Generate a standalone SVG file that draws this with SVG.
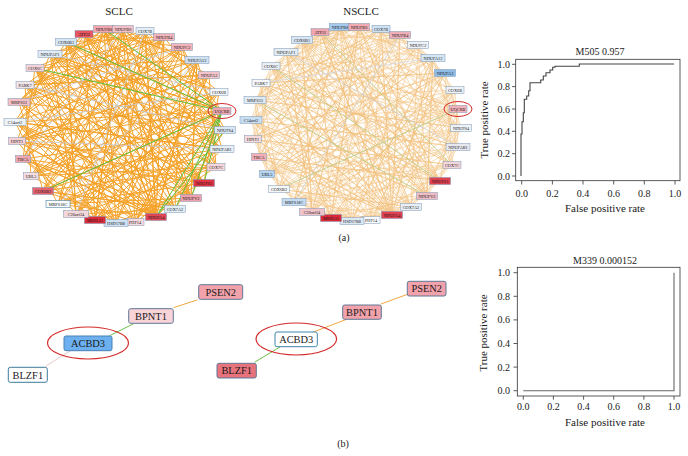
<svg xmlns="http://www.w3.org/2000/svg" width="688" height="456" viewBox="0 0 688 456">
<style>
text{font-family:"Liberation Serif","Times New Roman",serif;fill:#1a1a1a}
.n rect{stroke:#7c95b3;stroke-width:0.5}
.n text{font-size:4.3px;text-anchor:middle}
.b rect{stroke:#5f7897;stroke-width:1}
.b text{font-size:10.4px;text-anchor:middle}
.ring{fill:none;stroke:#d42a2a;stroke-width:1}
.ax{fill:none;stroke:#333;stroke-width:0.8}
.tk{font-size:10px}
.tl{font-size:11px;text-anchor:middle}
.e{fill:none;stroke-linecap:round;stroke-linejoin:round}
</style>
<defs>
<path id="pa" d="M182 47L43 191L222 111L50 54L191 198L123 29L15 122L135 222L219 92L84 34L95 220L222 149L25 85L164 37L23 159L204 183L66 42L76 214L209 75L17 141L156 217L145 31L19 102L225 130L58 204L104 29L175 209L35 68L216 167L31 176L197 60L116 223"/>
<path id="pb" d="M216 167L84 34L156 217L19 102L197 60L76 214L66 42L222 111L17 141L145 31L191 198L35 68L95 220L219 92L43 191L104 29L222 149L15 122L175 209L182 47L23 159L116 223L50 54L225 130L123 29L58 204L204 183L25 85L209 75L135 222L164 37L31 176"/>
<path id="pc" d="M23 159L225 130L104 29L116 223L35 68L197 60L191 198L15 122L145 31L216 167L76 214L219 92L66 42L175 209L43 191L164 37L19 102L156 217L84 34L204 183L17 141L209 75L95 220L123 29L50 54L222 149L31 176L222 111L135 222L25 85L182 47L58 204"/>
<path id="pd" d="M145 31L95 220L25 85L204 183L84 34L23 159L156 217L197 60L15 122L222 149L66 42L191 198L58 204L222 111L123 29L135 222L35 68L225 130L43 191L175 209L104 29L19 102L116 223L182 47L216 167L50 54L76 214L164 37L17 141L219 92L31 176L209 75"/>
<path id="pe" d="M156 217L35 68L164 37L58 204L222 149L84 34L19 102L191 198L197 60L31 176L123 29L95 220L225 130L66 42L135 222L209 75L25 85L175 209L23 159L104 29L204 183L50 54L222 111L15 122L116 223L145 31L43 191L216 167L17 141L182 47L76 214L219 92"/>
<path id="pf" d="M219 92L19 102L204 183L123 29L76 214L50 54L175 209L197 60L116 223L17 141L84 34L225 130L31 176L164 37L156 217L66 42L216 167L58 204L104 29L23 159L222 111L95 220L35 68L191 198L182 47L15 122L135 222L145 31L222 149L25 85L43 191L209 75"/>
<path id="pg" d="M76 214L123 29L204 183L23 159L197 60L66 42L116 223L222 111L25 85L175 209L84 34L43 191L222 149L164 37L15 122L191 198L50 54L95 220L209 75L31 176L104 29L135 222L225 130L19 102L145 31L17 141L216 167L35 68L156 217L219 92L58 204L182 47"/>
<path id="s5" d="M84 34L182 47L225 130L175 209L76 214L17 141L50 54L145 31L219 92L204 183L116 223L31 176L25 85L104 29L197 60L222 149L156 217L58 204L15 122L66 42L164 37L222 111L191 198L95 220L23 159L35 68L123 29L209 75L216 167L135 222L43 191L19 102Z"/>
<path id="s3" d="M84 34L145 31L197 60L222 111L216 167L175 209L116 223L58 204L23 159L19 102L50 54L104 29L164 37L209 75L225 130L204 183L156 217L95 220L43 191L17 141L25 85L66 42L123 29L182 47L219 92L222 149L191 198L135 222L76 214L31 176L15 122L35 68Z"/>
<path id="hub" d="M84 34L156 217L104 29M123 29L156 217L145 31M164 37L156 217L197 60M19 102L156 217L25 85M35 68L156 217L50 54M66 42L156 217L23 159M17 141L156 217L15 122M84 34L191 198L104 29M123 29L191 198L50 54M66 42L204 183L35 68"/>
</defs>

<text x="119" y="15" style="font-size:11px;text-anchor:middle">SCLC</text>
<text x="361" y="15" style="font-size:11px;text-anchor:middle">NSCLC</text>

<g id="connectors">
<g id="sclc-edges" class="e" stroke="#f4a128" stroke-width="0.95">
<use href="#pa"/>
<use href="#pb"/>
<use href="#pc"/>
<use href="#pd"/>
<use href="#pe"/>
<use href="#s5"/>
<use href="#hub"/>
<path stroke="#c5c8d0" stroke-width="0.8" d="M50 54L219 92M25 85L225 130M19 102L182 47M15 122L219 92M23 159L123 29M17 141L222 149M145 31L76 214M58 204L197 60"/>
<path stroke="#5fbf3a" stroke-width="1" d="M66 42L222 111L35 68M104 29L222 111L43 191M156 217L222 111L175 209M191 198L222 111L204 183M156 217L225 130"/>
</g>
<g id="nsclc-edges" class="e" transform="translate(236,-2)" stroke="#f3c17c" stroke-width="0.55">
<use href="#pa"/>
<use href="#pb"/>
<use href="#pc"/>
<use href="#pd"/>
<use href="#pe"/>
<use href="#pf"/>
<use href="#pg"/>
<use href="#s5"/>
<use href="#s3"/>
<use href="#hub"/>
<path stroke="#c5d3e6" stroke-width="0.6" d="M50 54L222 149M25 85L197 60M58 204L164 37"/>
<path stroke="#a5d08a" stroke-width="0.6" d="M35 68L204 183M43 191L222 111M84 34L216 167M19 102L191 198"/>
</g>
<g id="b-edges" class="e" stroke-width="1">
<path stroke="#f0a840" d="M174 307.5L197 300"/>
<path stroke="#6cc04a" d="M133 324L110 335.5"/>
<path stroke="#e6cccc" d="M70 351L46 366"/>
<path stroke="#f0a840" d="M311 333L346 319.5"/>
<path stroke="#f0a840" d="M381 304L407 294.5"/>
<path stroke="#6cc04a" d="M280 347L255 362"/>
</g>
</g>

<g id="sclc-nodes">
<g id="s-ATP5I" class="n"><rect x="75" y="30.5" width="18" height="7" fill="#e8545f"/><text x="84" y="35.5">ATP5I</text></g>
<g id="s-NDUFB8" class="n"><rect x="93.5" y="25.5" width="21" height="7" fill="#f1a6ae"/><text x="104" y="30.5">NDUFB8</text></g>
<g id="s-NDUFB6" class="n"><rect x="112.5" y="25.5" width="21" height="7" fill="#f4c0c6"/><text x="123" y="30.5">NDUFB6</text></g>
<g id="s-COX7B" class="n"><rect x="136" y="27.5" width="18" height="7" fill="#e4eef7"/><text x="145" y="32.5">COX7B</text></g>
<g id="s-NDUFB4" class="n"><rect x="153.5" y="33.5" width="21" height="7" fill="#f2b3ba"/><text x="164" y="38.5">NDUFB4</text></g>
<g id="s-NDUFC2" class="n"><rect x="171.5" y="43.5" width="21" height="7" fill="#f2b3ba"/><text x="182" y="48.5">NDUFC2</text></g>
<g id="s-NDUFA12" class="n"><rect x="185" y="56.5" width="24" height="7" fill="#cfe1f2"/><text x="197" y="61.5">NDUFA12</text></g>
<g id="s-NDUFA3" class="n"><rect x="198.5" y="71.5" width="21" height="7" fill="#f4c4ca"/><text x="209" y="76.5">NDUFA3</text></g>
<g id="s-COX6B" class="n"><rect x="210" y="88.5" width="18" height="7" fill="#f3f7fb"/><text x="219" y="93.5">COX6B</text></g>
<g id="s-UQCRB" class="n"><rect x="213" y="107.5" width="18" height="7" fill="#f1a9b1"/><text x="222" y="112.5">UQCRB</text><ellipse class="ring" cx="222" cy="111" rx="14" ry="7.5"/></g>
<g id="s-NDUFS4" class="n"><rect x="214.5" y="126.5" width="21" height="7" fill="#dae8f5"/><text x="225" y="131.5">NDUFS4</text></g>
<g id="s-NDUFAB1" class="n"><rect x="210" y="145.5" width="24" height="7" fill="#e6eef6"/><text x="222" y="150.5">NDUFAB1</text></g>
<g id="s-COX7C" class="n"><rect x="207" y="163.5" width="18" height="7" fill="#f6d6db"/><text x="216" y="168.5">COX7C</text></g>
<g id="s-NDUFS3" class="n"><rect x="193.5" y="179.5" width="21" height="7" fill="#e03343"/><text x="204" y="184.5">NDUFS3</text></g>
<g id="s-NDUFV2" class="n"><rect x="180.5" y="194.5" width="21" height="7" fill="#efa2ac"/><text x="191" y="199.5">NDUFV2</text></g>
<g id="s-COX7A2" class="n"><rect x="164.5" y="205.5" width="21" height="7" fill="#e2edf7"/><text x="175" y="210.5">COX7A2</text></g>
<g id="s-NDUFA4" class="n"><rect x="145.5" y="213.5" width="21" height="7" fill="#e04655"/><text x="156" y="218.5">NDUFA4</text></g>
<g id="s-PHF14" class="n"><rect x="126" y="218.5" width="18" height="7" fill="#f6d9de"/><text x="135" y="223.5">PHF14</text></g>
<g id="s-HSD17B8" class="n"><rect x="104" y="219.5" width="24" height="7" fill="#cfe1f2"/><text x="116" y="224.5">HSD17B8</text></g>
<g id="s-MRPL51" class="n"><rect x="84.5" y="216.5" width="21" height="7" fill="#dc2b3a"/><text x="95" y="221.5">MRPL51</text></g>
<g id="s-C20orf24" class="n"><rect x="63.5" y="210.5" width="25" height="7" fill="#f4d7db"/><text x="76" y="215.5">C20orf24</text></g>
<g id="s-MRPS18C" class="n"><rect x="46" y="200.5" width="24" height="7" fill="#f8fbff" style="stroke:#2f6a94"/><text x="58" y="205.5">MRPS18C</text></g>
<g id="s-COX6B2" class="n"><rect x="32.5" y="187.5" width="21" height="7" fill="#e4636f"/><text x="43" y="192.5">COX6B2</text></g>
<g id="s-UBL5" class="n"><rect x="23.5" y="172.5" width="15" height="7" fill="#f5dde1"/><text x="31" y="177.5">UBL5</text></g>
<g id="s-TBCA" class="n"><rect x="15.5" y="155.5" width="15" height="7" fill="#f0a8b0"/><text x="23" y="160.5">TBCA</text></g>
<g id="s-HINT1" class="n"><rect x="8.5" y="137.5" width="17" height="7" fill="#f5d0d5"/><text x="17" y="142.5">HINT1</text></g>
<g id="s-C14orf2" class="n"><rect x="4" y="118.5" width="22" height="7" fill="#edf3f9"/><text x="15" y="123.5">C14orf2</text></g>
<g id="s-MRPS33" class="n"><rect x="8" y="98.5" width="22" height="7" fill="#f3c0c6"/><text x="19" y="103.5">MRPS33</text></g>
<g id="s-PARK7" class="n"><rect x="16" y="81.5" width="18" height="7" fill="#f1e5e9"/><text x="25" y="86.5">PARK7</text></g>
<g id="s-COX6C" class="n"><rect x="26" y="64.5" width="18" height="7" fill="#f5d4d9"/><text x="35" y="69.5">COX6C</text></g>
<g id="s-NDUFAF1" class="n"><rect x="38" y="50.5" width="24" height="7" fill="#e0ebf6"/><text x="50" y="55.5">NDUFAF1</text></g>
<g id="s-COX6B1" class="n"><rect x="55.5" y="38.5" width="21" height="7" fill="#d6e6f4"/><text x="66" y="43.5">COX6B1</text></g>
</g>

<g id="nsclc-nodes" transform="translate(236,-2)">
<g id="n-ATP5I" class="n"><rect x="75" y="30.5" width="18" height="7" fill="#f2a7af"/><text x="84" y="35.5">ATP5I</text></g>
<g id="n-NDUFB8" class="n"><rect x="93.5" y="25.5" width="21" height="7" fill="#a6cbee"/><text x="104" y="30.5">NDUFB8</text></g>
<g id="n-NDUFB6" class="n"><rect x="112.5" y="25.5" width="21" height="7" fill="#f1abb3"/><text x="123" y="30.5">NDUFB6</text></g>
<g id="n-COX7B" class="n"><rect x="136" y="27.5" width="18" height="7" fill="#cfe2f3"/><text x="145" y="32.5">COX7B</text></g>
<g id="n-NDUFB4" class="n"><rect x="153.5" y="33.5" width="21" height="7" fill="#efb1b9"/><text x="164" y="38.5">NDUFB4</text></g>
<g id="n-NDUFC2" class="n"><rect x="171.5" y="43.5" width="21" height="7" fill="#edf2f8"/><text x="182" y="48.5">NDUFC2</text></g>
<g id="n-NDUFA12" class="n"><rect x="185" y="56.5" width="24" height="7" fill="#d5e6f4"/><text x="197" y="61.5">NDUFA12</text></g>
<g id="n-NDUFA3" class="n"><rect x="198.5" y="71.5" width="21" height="7" fill="#8fbde8"/><text x="209" y="76.5">NDUFA3</text></g>
<g id="n-COX6B" class="n"><rect x="210" y="88.5" width="18" height="7" fill="#eef3f8"/><text x="219" y="93.5">COX6B</text></g>
<g id="n-UQCRB" class="n"><rect x="213" y="107.5" width="18" height="7" fill="#f2b0b8"/><text x="222" y="112.5">UQCRB</text><ellipse class="ring" cx="222" cy="111" rx="14" ry="7.5"/></g>
<g id="n-NDUFS4" class="n"><rect x="214.5" y="126.5" width="21" height="7" fill="#edf2f8"/><text x="225" y="131.5">NDUFS4</text></g>
<g id="n-NDUFAB1" class="n"><rect x="210" y="145.5" width="24" height="7" fill="#e8e8f0"/><text x="222" y="150.5">NDUFAB1</text></g>
<g id="n-COX7C" class="n"><rect x="207" y="163.5" width="18" height="7" fill="#f3d6db"/><text x="216" y="168.5">COX7C</text></g>
<g id="n-NDUFS3" class="n"><rect x="193.5" y="179.5" width="21" height="7" fill="#e04050"/><text x="204" y="184.5">NDUFS3</text></g>
<g id="n-NDUFV2" class="n"><rect x="180.5" y="194.5" width="21" height="7" fill="#eebcc4"/><text x="191" y="199.5">NDUFV2</text></g>
<g id="n-COX7A2" class="n"><rect x="164.5" y="205.5" width="21" height="7" fill="#e8eef4"/><text x="175" y="210.5">COX7A2</text></g>
<g id="n-NDUFA4" class="n"><rect x="145.5" y="213.5" width="21" height="7" fill="#e04050"/><text x="156" y="218.5">NDUFA4</text></g>
<g id="n-PHF14" class="n"><rect x="126" y="218.5" width="18" height="7" fill="#f8fafc"/><text x="135" y="223.5">PHF14</text></g>
<g id="n-HSD17B8" class="n"><rect x="104" y="219.5" width="24" height="7" fill="#dce8f4"/><text x="116" y="224.5">HSD17B8</text></g>
<g id="n-MRPL51" class="n"><rect x="84.5" y="216.5" width="21" height="7" fill="#dd2a38"/><text x="95" y="221.5">MRPL51</text></g>
<g id="n-C20orf24" class="n"><rect x="63.5" y="210.5" width="25" height="7" fill="#f2c4ca"/><text x="76" y="215.5">C20orf24</text></g>
<g id="n-MRPS18C" class="n"><rect x="46" y="200.5" width="24" height="7" fill="#c5dcf2"/><text x="58" y="205.5">MRPS18C</text></g>
<g id="n-COX6B2" class="n"><rect x="32.5" y="187.5" width="21" height="7" fill="#f5f8fb"/><text x="43" y="192.5">COX6B2</text></g>
<g id="n-UBL5" class="n"><rect x="23.5" y="172.5" width="15" height="7" fill="#b4d4f0"/><text x="31" y="177.5">UBL5</text></g>
<g id="n-TBCA" class="n"><rect x="15.5" y="155.5" width="15" height="7" fill="#f3b0b8"/><text x="23" y="160.5">TBCA</text></g>
<g id="n-HINT1" class="n"><rect x="8.5" y="137.5" width="17" height="7" fill="#f5dade"/><text x="17" y="142.5">HINT1</text></g>
<g id="n-C14orf2" class="n"><rect x="4" y="118.5" width="22" height="7" fill="#c8def2"/><text x="15" y="123.5">C14orf2</text></g>
<g id="n-MRPS33" class="n"><rect x="8" y="98.5" width="22" height="7" fill="#dfeaf5"/><text x="19" y="103.5">MRPS33</text></g>
<g id="n-PARK7" class="n"><rect x="16" y="81.5" width="18" height="7" fill="#f5f7fa"/><text x="25" y="86.5">PARK7</text></g>
<g id="n-COX6C" class="n"><rect x="26" y="64.5" width="18" height="7" fill="#eaf0f6"/><text x="35" y="69.5">COX6C</text></g>
<g id="n-NDUFAF1" class="n"><rect x="38" y="50.5" width="24" height="7" fill="#e4ecf4"/><text x="50" y="55.5">NDUFAF1</text></g>
<g id="n-COX6B1" class="n"><rect x="55.5" y="38.5" width="21" height="7" fill="#d8e6f4"/><text x="66" y="43.5">COX6B1</text></g>
</g>

<text x="344" y="241" style="font-size:10px;text-anchor:middle">(a)</text>
<text x="343" y="447" style="font-size:10px;text-anchor:middle">(b)</text>

<g id="b-left">
<g id="bl-PSEN2" class="b"><rect x="198.7" y="284.7" width="44" height="14.6" rx="2" fill="#f2a2aa"/><text x="220.7" y="295.7">PSEN2</text></g>
<g id="bl-BPNT1" class="b"><rect x="128.7" y="308.7" width="44.6" height="14.6" rx="2" fill="#f8d3d7"/><text x="151" y="319.7">BPNT1</text></g>
<g id="bl-ACBD3" class="b"><rect x="64" y="336" width="48" height="14.7" rx="2" fill="#6cb0ef" style="stroke:#4a80b5"/><text x="88" y="347">ACBD3</text><ellipse cx="88" cy="343" rx="40.5" ry="16" fill="none" stroke="#d42a2a" stroke-width="1.2"/></g>
<g id="bl-BLZF1" class="b"><rect x="8.3" y="367.3" width="39" height="15" rx="2" fill="#ffffff" style="stroke:#3f7a99"/><text x="27.8" y="378.5">BLZF1</text></g>
</g>
<g id="b-right">
<g id="br-ACBD3" class="b"><rect x="275" y="332" width="42.3" height="14.7" rx="2" fill="#ffffff" style="stroke:#3f86a8"/><text x="296.2" y="343">ACBD3</text><ellipse cx="296.3" cy="339" rx="40.3" ry="16" fill="none" stroke="#d42a2a" stroke-width="1.2"/></g>
<g id="br-BLZF1" class="b"><rect x="217" y="363.3" width="39.3" height="14.7" rx="2" fill="#e8737d"/><text x="236.7" y="374.4">BLZF1</text></g>
<g id="br-BPNT1" class="b"><rect x="342.7" y="305" width="38.6" height="14.3" rx="2" fill="#f2a2aa"/><text x="362" y="315.9">BPNT1</text></g>
<g id="br-PSEN2" class="b"><rect x="407.3" y="281.3" width="38.7" height="14.7" rx="2" fill="#f2a2aa"/><text x="426.7" y="292.4">PSEN2</text></g>
</g>

<g id="roc1">
<text x="600" y="55" style="font-size:10px;text-anchor:middle">M505 0.957</text>
<rect class="ax" x="515.7" y="59.3" width="164.3" height="121.4"/>
<path class="ax" d="M512 176H515.7M512 153.7H515.7M512 131.3H515.7M512 109H515.7M512 86.6H515.7M512 64.3H515.7M521.7 180.7V184.5M552.4 180.7V184.5M583 180.7V184.5M613.7 180.7V184.5M644.3 180.7V184.5M675 180.7V184.5"/>
<g class="tk" style="text-anchor:end">
<text x="510" y="179.5">0.0</text><text x="510" y="157.2">0.2</text><text x="510" y="134.8">0.4</text><text x="510" y="112.5">0.6</text><text x="510" y="90.1">0.8</text><text x="510" y="67.8">1.0</text>
</g>
<g class="tk" style="text-anchor:middle">
<text x="521.7" y="196.5">0.0</text><text x="552.4" y="196.5">0.2</text><text x="583" y="196.5">0.4</text><text x="613.7" y="196.5">0.6</text><text x="644.3" y="196.5">0.8</text><text x="675" y="196.5">1.0</text>
</g>
<text class="tl" x="605" y="211.5">False positive rate</text>
<text class="tl" transform="translate(488,120) rotate(-90)">True positive rate</text>
<path fill="none" stroke="#444" stroke-width="1.1" d="M521 176V134H522V121.7H523.3V112.7H524.3V99.3H526.7V96H528.7V90.7H530V82.7H540.7V80H543.3V76H546V72.7H550V70H552.7V67.3H555V66.3H579.3V64H674"/>
</g>

<g id="roc2">
<text x="605" y="264" style="font-size:10px;text-anchor:middle">M339 0.000152</text>
<rect class="ax" x="517.3" y="267.3" width="162.7" height="128.7"/>
<path class="ax" d="M513.5 390.7H517.3M513.5 367.1H517.3M513.5 343.5H517.3M513.5 319.9H517.3M513.5 296.3H517.3M513.5 272.7H517.3M523.3 396V399.7M553.4 396V399.7M583.6 396V399.7M613.7 396V399.7M643.9 396V399.7M674 396V399.7"/>
<g class="tk" style="text-anchor:end">
<text x="510" y="394.2">0.0</text><text x="510" y="370.6">0.2</text><text x="510" y="347">0.4</text><text x="510" y="323.4">0.6</text><text x="510" y="299.8">0.8</text><text x="510" y="276.2">1.0</text>
</g>
<g class="tk" style="text-anchor:middle">
<text x="523.3" y="410">0.0</text><text x="553.4" y="410">0.2</text><text x="583.6" y="410">0.4</text><text x="613.7" y="410">0.6</text><text x="643.9" y="410">0.8</text><text x="674" y="410">1.0</text>
</g>
<text class="tl" x="605" y="426">False positive rate</text>
<text class="tl" transform="translate(487,333) rotate(-90)">True positive rate</text>
<path fill="none" stroke="#666" stroke-width="1.1" d="M523.3 390.7H674V272.7"/>
</g>
</svg>
